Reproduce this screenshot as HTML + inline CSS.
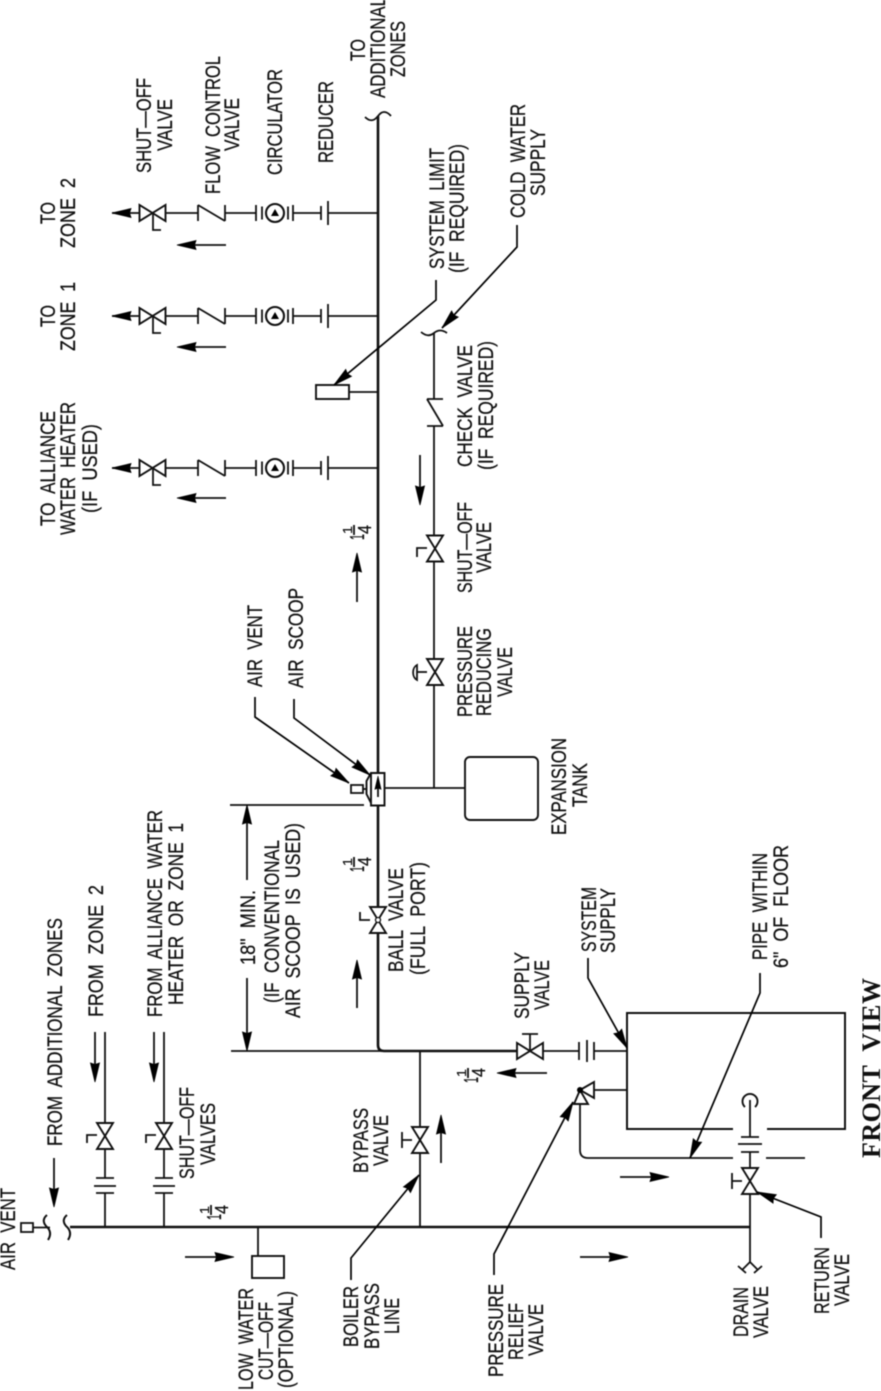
<!DOCTYPE html>
<html><head><meta charset="utf-8"><title>Front View</title>
<style>
html,body{margin:0;padding:0;background:#fff;width:881px;height:1391px;overflow:hidden}
svg{display:block;filter:blur(.5px)}
text{font-family:"Liberation Sans",sans-serif;font-size:21px;fill:#111;stroke:#111;stroke-width:.25px;white-space:pre}
.l{fill:none;stroke:#111;stroke-width:1.8}
.m{fill:none;stroke:#111;stroke-width:2.6}
.v{fill:#fff;stroke:#111;stroke-width:1.9}
.k{fill:none;stroke:#000;stroke-width:1.7}
</style></head><body>
<svg width="881" height="1391" viewBox="0 0 881 1391" xmlns="http://www.w3.org/2000/svg">
<defs>
<polygon id="a" points="0,0 4.500,19 0,17.500 -4.500,19" fill="#000" stroke="#000" stroke-width=".8"/>
<path id="bt" class="v" d="M-8 -13L8 -13L-8 13L8 13Z"/>
<g id="zone">
<path class="l" d="M112 0H140M165 0H198M198 -8V8M198 -8L225 8M225 -8V8M225 0H256M256 -8V8M262 -6.500V6.500M288 -6.500V6.500M293 -8V8M293 0H321M321 -7V7M328 -12V12M328 0H378M153 0V17H161"/>
<use href="#bt" transform="translate(152.500,0) rotate(90)"/>
<use href="#a" transform="translate(112,0) rotate(-90)"/>
<circle cx="275" cy="0" r="9" fill="#fff" stroke="#111" stroke-width="2.100"/>
<polygon points="275,-4 271,3 279,3" fill="#000"/>
</g>
<g id="hf"><path class="l" d="M-9 0H9M-11 8H11M-9 15H9"/></g>
</defs>

<!-- main pipes -->
<path class="m" d="M378 116V1045Q378 1051 384 1051H517"/>
<path class="m" d="M70 1227H750"/>
<path class="l" d="M543 1051H579M594 1051H627"/>
<path class="l" d="M365 117Q372 124 378 116Q384 108 391 116"/>

<!-- zones -->
<use href="#zone" y="213"/>
<use href="#zone" y="316"/>
<use href="#zone" y="468"/>
<path class="l" d="M226 245H190M226 347H190M226 498H190"/>
<use href="#a" transform="translate(177,245) rotate(-90)"/>
<use href="#a" transform="translate(177,347) rotate(-90)"/>
<use href="#a" transform="translate(177,498) rotate(-90)"/>

<!-- system limit -->
<rect x="316" y="385" width="33" height="14" fill="#fff" stroke="#111" stroke-width="1.900"/>
<path class="l" d="M349 392H378"/>
<path class="k" d="M436 280V300L334 385"/>
<use href="#a" transform="translate(334,385) rotate(-129.800)"/>

<!-- cold water line -->
<path class="l" d="M434 333V399M434 426V535M434 562V659M434 685V788"/>
<path class="l" d="M421 332Q428 338 434 333Q440 328 447 333"/>
<path class="l" d="M427 399H443M427 399L443 426M427 426H443"/>
<path class="k" d="M517 225V247L442 328"/>
<use href="#a" transform="translate(442,328) rotate(-137.200)"/>
<use href="#bt" transform="translate(435,548.500)"/>
<path class="l" d="M427 548H417V557"/>
<use href="#bt" transform="translate(435,672)"/>
<path class="l" d="M427 672H417"/>
<path d="M417 665A6 8 0 0 0 417 680Z" fill="none" stroke="#111" stroke-width="1.800"/>
<path class="l" d="M420 455V490"/>
<use href="#a" transform="translate(420,505) rotate(180)"/>

<!-- expansion tank -->
<path class="l" d="M385 788H465"/>
<rect x="465" y="757" width="73" height="63" rx="5" ry="5" fill="#fff" stroke="#111" stroke-width="1.900"/>

<!-- air scoop -->
<path d="M371 773H384.500V805.500H371ZM371 773L366.500 781V794L371 803" fill="#fff" stroke="#111" stroke-width="1.900"/>
<path class="l" d="M378 786V797"/>
<use href="#a" transform="translate(378,776) scale(.7)"/>
<rect x="351" y="785" width="12" height="8" fill="#fff" stroke="#111" stroke-width="1.800"/>
<path class="l" d="M363 789H367"/>
<path class="k" d="M255 697V717L349 783"/>
<use href="#a" transform="translate(349,783) rotate(125)"/>
<path class="k" d="M294 699V718L370 775"/>
<use href="#a" transform="translate(370,775) rotate(126.900)"/>

<!-- 18 inch dimension -->
<path class="l" d="M231 1051H384"/>
<path class="l" d="M230 805H364"/>
<path class="l" d="M247 820V880M247 978V1040"/>
<use href="#a" transform="translate(247,805)"/>
<use href="#a" transform="translate(247,1051) rotate(180)"/>

<!-- ball valve -->
<use href="#bt" transform="translate(378,920)"/>
<circle cx="378" cy="920" r="2.500" fill="#fff" stroke="#111" stroke-width="1.300"/>
<path class="l" d="M370 920H360V912"/>

<!-- flow arrows on pipe -->
<path class="l" d="M357 602V565M357 1008V972M441 1163V1128"/>
<use href="#a" transform="translate(357,553)"/>
<use href="#a" transform="translate(357,960)"/>
<use href="#a" transform="translate(441,1115)"/>

<!-- return zones -->
<path class="l" d="M105 1032V1123M105 1148V1178M105 1193V1227M164 1032V1123M164 1148V1178M164 1193V1227"/>
<use href="#hf" transform="translate(105,1178)"/>
<use href="#hf" transform="translate(164,1178)"/>
<use href="#bt" transform="translate(105,1136)"/>
<use href="#bt" transform="translate(164,1136)"/>
<path class="l" d="M97 1135H87V1143M156 1135H146V1143"/>
<path class="l" d="M95 1032V1070M154 1032V1070M54 1158V1195"/>
<use href="#a" transform="translate(95,1082) rotate(180)"/>
<use href="#a" transform="translate(154,1082) rotate(180)"/>
<use href="#a" transform="translate(54,1207) rotate(180)"/>

<!-- top air vent -->
<rect x="21" y="1223" width="12" height="9" fill="#fff" stroke="#111" stroke-width="1.800"/>
<path class="l" d="M33 1227.500H50"/>
<path class="m" d="M47 1215Q41 1220 46 1226Q53 1232 48 1240M67 1215Q61 1220 66 1226Q73 1232 68 1240" style="stroke-width:2"/>

<!-- low water cutoff -->
<path class="l" d="M258 1227V1256"/>
<rect x="252" y="1256" width="32" height="22" fill="#fff" stroke="#111" stroke-width="1.900"/>

<!-- bypass -->
<path class="l" d="M420 1051V1127M420 1153V1227"/>
<use href="#bt" transform="translate(420,1140)"/>
<path class="l" d="M412 1140H402M402 1132V1148"/>
<path class="k" d="M351 1280V1258L419 1175"/>
<use href="#a" transform="translate(419,1175) rotate(39.300)"/>

<!-- boiler -->
<path class="l" style="stroke-width:2" d="M733 1129H627V1013H845V1129H767"/>
<path class="l" d="M588 1158H733M766 1158H805M588 1158Q580 1158 580 1150V1104M594 1090H627"/>
<!-- supply valve + flange -->
<use href="#bt" transform="translate(530,1051) rotate(90)"/>
<path class="l" d="M530 1051V1034M522 1034H538M579 1042V1060M587 1040V1062M594 1042V1060"/>
<!-- relief valve -->
<polygon class="v" points="580,1090 594,1082 594,1098"/>
<polygon class="v" points="580,1090 574,1104 588,1104"/>
<circle cx="580" cy="1090" r="3" fill="#000"/>
<path class="k" d="M494 1275V1254L573 1102"/>
<use href="#a" transform="translate(573,1102) rotate(27.500)"/>
<path class="k" d="M588 958V978L627 1048"/>
<use href="#a" transform="translate(627,1048) rotate(150.900)"/>
<path class="k" d="M760 973V993L690 1158"/>
<use href="#a" transform="translate(690,1158) rotate(-157)"/>

<!-- return valve side -->
<path d="M745 1107A7.500 7.500 0 1 1 755 1107" fill="none" stroke="#111" stroke-width="1.900"/>
<path class="l" d="M750 1100V1137M750 1152V1167M750 1194V1262"/>
<path class="l" d="M741 1137H759M738 1144H762M741 1152H759"/>
<use href="#bt" transform="translate(750,1181)"/>
<path class="l" d="M742 1181H732M732 1173V1189"/>
<path class="k" d="M821 1238V1217L757 1192"/>
<use href="#a" transform="translate(757,1192) rotate(-68.700)"/>
<path class="l" d="M742 1270L750 1262L758 1270M738 1266L746 1273M762 1266L754 1273"/>

<!-- flow arrows -->
<path class="l" d="M185 1257H221M580 1257H616M620 1177H657M547 1073H510"/>
<use href="#a" transform="translate(234,1257) rotate(90)"/>
<use href="#a" transform="translate(628,1257) rotate(90)"/>
<use href="#a" transform="translate(669,1177) rotate(90)"/>
<use href="#a" transform="translate(497,1073) rotate(-90)"/>

<!-- one and a quarter marks -->
<g xml:space="preserve">
<text transform="translate(364,540) rotate(-90)" style="font-size:20px" textLength="6" lengthAdjust="spacingAndGlyphs">1</text>
<text transform="translate(352,534) rotate(-90)" style="font-size:13px" textLength="8" lengthAdjust="spacingAndGlyphs">1</text>
<text transform="translate(371,534) rotate(-90)" style="font-size:18px" textLength="9" lengthAdjust="spacingAndGlyphs">4</text>
<path class="l" d="M354 525V535"/>
<text transform="translate(364,872) rotate(-90)" style="font-size:20px" textLength="6" lengthAdjust="spacingAndGlyphs">1</text>
<text transform="translate(352,866) rotate(-90)" style="font-size:13px" textLength="8" lengthAdjust="spacingAndGlyphs">1</text>
<text transform="translate(371,866) rotate(-90)" style="font-size:18px" textLength="9" lengthAdjust="spacingAndGlyphs">4</text>
<path class="l" d="M354 857V867"/>
<text transform="translate(221,1220) rotate(-90)" style="font-size:20px" textLength="6" lengthAdjust="spacingAndGlyphs">1</text>
<text transform="translate(209,1214) rotate(-90)" style="font-size:13px" textLength="8" lengthAdjust="spacingAndGlyphs">1</text>
<text transform="translate(228,1214) rotate(-90)" style="font-size:18px" textLength="9" lengthAdjust="spacingAndGlyphs">4</text>
<path class="l" d="M211 1205V1215"/>
<text transform="translate(478,1083) rotate(-90)" style="font-size:20px" textLength="6" lengthAdjust="spacingAndGlyphs">1</text>
<text transform="translate(466,1077) rotate(-90)" style="font-size:13px" textLength="8" lengthAdjust="spacingAndGlyphs">1</text>
<text transform="translate(485,1077) rotate(-90)" style="font-size:18px" textLength="9" lengthAdjust="spacingAndGlyphs">4</text>
<path class="l" d="M468 1068V1078"/>
</g>

<!-- labels -->
<g xml:space="preserve">
<text transform="translate(55,224) rotate(-90)" textLength="22" lengthAdjust="spacingAndGlyphs">TO</text>
<text transform="translate(75,248) rotate(-90)" textLength="70" lengthAdjust="spacingAndGlyphs">ZONE  2</text>
<text transform="translate(55,327) rotate(-90)" textLength="22" lengthAdjust="spacingAndGlyphs">TO</text>
<text transform="translate(75,351) rotate(-90)" textLength="69" lengthAdjust="spacingAndGlyphs">ZONE  1</text>
<text transform="translate(151,173) rotate(-90)" textLength="95" lengthAdjust="spacingAndGlyphs">SHUT—OFF</text>
<text transform="translate(172,151) rotate(-90)" textLength="52" lengthAdjust="spacingAndGlyphs">VALVE</text>
<text transform="translate(220,194) rotate(-90)" textLength="138" lengthAdjust="spacingAndGlyphs">FLOW  CONTROL</text>
<text transform="translate(239,151) rotate(-90)" textLength="53" lengthAdjust="spacingAndGlyphs">VALVE</text>
<text transform="translate(282,175) rotate(-90)" textLength="106" lengthAdjust="spacingAndGlyphs">CIRCULATOR</text>
<text transform="translate(333,163) rotate(-90)" textLength="82" lengthAdjust="spacingAndGlyphs">REDUCER</text>
<text transform="translate(365,61) rotate(-90)" textLength="22" lengthAdjust="spacingAndGlyphs">TO</text>
<text transform="translate(385,98) rotate(-90)" textLength="101" lengthAdjust="spacingAndGlyphs">ADDITIONAL</text>
<text transform="translate(405,77) rotate(-90)" textLength="56" lengthAdjust="spacingAndGlyphs">ZONES</text>
<text transform="translate(444,269) rotate(-90)" textLength="121" lengthAdjust="spacingAndGlyphs">SYSTEM  LIMIT</text>
<text transform="translate(464,273) rotate(-90)" textLength="129" lengthAdjust="spacingAndGlyphs">(IF  REQUIRED)</text>
<text transform="translate(525,218) rotate(-90)" textLength="114" lengthAdjust="spacingAndGlyphs">COLD  WATER</text>
<text transform="translate(545,196) rotate(-90)" textLength="67" lengthAdjust="spacingAndGlyphs">SUPPLY</text>
<text transform="translate(472,467) rotate(-90)" textLength="122" lengthAdjust="spacingAndGlyphs">CHECK  VALVE</text>
<text transform="translate(493,470) rotate(-90)" textLength="129" lengthAdjust="spacingAndGlyphs">(IF  REQUIRED)</text>
<text transform="translate(55,526) rotate(-90)" textLength="115" lengthAdjust="spacingAndGlyphs">TO  ALLIANCE</text>
<text transform="translate(75,535) rotate(-90)" textLength="133" lengthAdjust="spacingAndGlyphs">WATER  HEATER</text>
<text transform="translate(97,513) rotate(-90)" textLength="89" lengthAdjust="spacingAndGlyphs">(IF  USED)</text>
<text transform="translate(262,687) rotate(-90)" textLength="82" lengthAdjust="spacingAndGlyphs">AIR  VENT</text>
<text transform="translate(303,688) rotate(-90)" textLength="100" lengthAdjust="spacingAndGlyphs">AIR  SCOOP</text>
<text transform="translate(472,593) rotate(-90)" textLength="91" lengthAdjust="spacingAndGlyphs">SHUT—OFF</text>
<text transform="translate(491,573) rotate(-90)" textLength="51" lengthAdjust="spacingAndGlyphs">VALVE</text>
<text transform="translate(472,717) rotate(-90)" textLength="91" lengthAdjust="spacingAndGlyphs">PRESSURE</text>
<text transform="translate(491,716) rotate(-90)" textLength="88" lengthAdjust="spacingAndGlyphs">REDUCING</text>
<text transform="translate(512,697) rotate(-90)" textLength="50" lengthAdjust="spacingAndGlyphs">VALVE</text>
<text transform="translate(566,835) rotate(-90)" textLength="97" lengthAdjust="spacingAndGlyphs">EXPANSION</text>
<text transform="translate(587,807) rotate(-90)" textLength="44" lengthAdjust="spacingAndGlyphs">TANK</text>
<text transform="translate(15,1270) rotate(-90)" textLength="82" lengthAdjust="spacingAndGlyphs">AIR  VENT</text>
<text transform="translate(62,1146) rotate(-90)" textLength="228" lengthAdjust="spacingAndGlyphs">FROM  ADDITIONAL  ZONES</text>
<text transform="translate(103,1017) rotate(-90)" textLength="132" lengthAdjust="spacingAndGlyphs">FROM  ZONE  2</text>
<text transform="translate(162,1017) rotate(-90)" textLength="207" lengthAdjust="spacingAndGlyphs">FROM  ALLIANCE  WATER</text>
<text transform="translate(183,1005) rotate(-90)" textLength="182" lengthAdjust="spacingAndGlyphs">HEATER  OR  ZONE  1</text>
<text transform="translate(194,1179) rotate(-90)" textLength="92" lengthAdjust="spacingAndGlyphs">SHUT—OFF</text>
<text transform="translate(215,1165) rotate(-90)" textLength="62" lengthAdjust="spacingAndGlyphs">VALVES</text>
<text transform="translate(253,1390) rotate(-90)" textLength="102" lengthAdjust="spacingAndGlyphs">LOW  WATER</text>
<text transform="translate(273,1380) rotate(-90)" textLength="78" lengthAdjust="spacingAndGlyphs">CUT—OFF</text>
<text transform="translate(293,1388) rotate(-90)" textLength="97" lengthAdjust="spacingAndGlyphs">(OPTIONAL)</text>
<text transform="translate(255,965) rotate(-90)" textLength="75" lengthAdjust="spacingAndGlyphs">18"  MIN.</text>
<text transform="translate(279,1003) rotate(-90)" textLength="163" lengthAdjust="spacingAndGlyphs">(IF  CONVENTIONAL</text>
<text transform="translate(300,1018) rotate(-90)" textLength="195" lengthAdjust="spacingAndGlyphs">AIR  SCOOP  IS  USED)</text>
<text transform="translate(368,1173) rotate(-90)" textLength="65" lengthAdjust="spacingAndGlyphs">BYPASS</text>
<text transform="translate(388,1166) rotate(-90)" textLength="51" lengthAdjust="spacingAndGlyphs">VALVE</text>
<text transform="translate(358,1347) rotate(-90)" textLength="61" lengthAdjust="spacingAndGlyphs">BOILER</text>
<text transform="translate(379,1349) rotate(-90)" textLength="66" lengthAdjust="spacingAndGlyphs">BYPASS</text>
<text transform="translate(399,1334) rotate(-90)" textLength="36" lengthAdjust="spacingAndGlyphs">LINE</text>
<text transform="translate(403,972) rotate(-90)" textLength="104" lengthAdjust="spacingAndGlyphs">BALL  VALVE</text>
<text transform="translate(425,975) rotate(-90)" textLength="113" lengthAdjust="spacingAndGlyphs">(FULL  PORT)</text>
<text transform="translate(596,952) rotate(-90)" textLength="65" lengthAdjust="spacingAndGlyphs">SYSTEM</text>
<text transform="translate(615,953) rotate(-90)" textLength="65" lengthAdjust="spacingAndGlyphs">SUPPLY</text>
<text transform="translate(529,1019) rotate(-90)" textLength="67" lengthAdjust="spacingAndGlyphs">SUPPLY</text>
<text transform="translate(549,1010) rotate(-90)" textLength="50" lengthAdjust="spacingAndGlyphs">VALVE</text>
<text transform="translate(767,960) rotate(-90)" textLength="107" lengthAdjust="spacingAndGlyphs">PIPE  WITHIN</text>
<text transform="translate(788,968) rotate(-90)" textLength="123" lengthAdjust="spacingAndGlyphs">6"  OF  FLOOR</text>
<text transform="translate(503,1377) rotate(-90)" textLength="93" lengthAdjust="spacingAndGlyphs">PRESSURE</text>
<text transform="translate(523,1360) rotate(-90)" textLength="57" lengthAdjust="spacingAndGlyphs">RELIEF</text>
<text transform="translate(543,1356) rotate(-90)" textLength="52" lengthAdjust="spacingAndGlyphs">VALVE</text>
<text transform="translate(748,1337) rotate(-90)" textLength="50" lengthAdjust="spacingAndGlyphs">DRAIN</text>
<text transform="translate(768,1338) rotate(-90)" textLength="52" lengthAdjust="spacingAndGlyphs">VALVE</text>
<text transform="translate(829,1314) rotate(-90)" textLength="67" lengthAdjust="spacingAndGlyphs">RETURN</text>
<text transform="translate(849,1306) rotate(-90)" textLength="52" lengthAdjust="spacingAndGlyphs">VALVE</text>
<text transform="translate(880,1158) rotate(-90)" textLength="180" lengthAdjust="spacing" style="font-family:'Liberation Serif',serif;font-weight:bold;font-size:26px;stroke-width:0">FRONT  VIEW</text>
</g>
</svg>
</body></html>
